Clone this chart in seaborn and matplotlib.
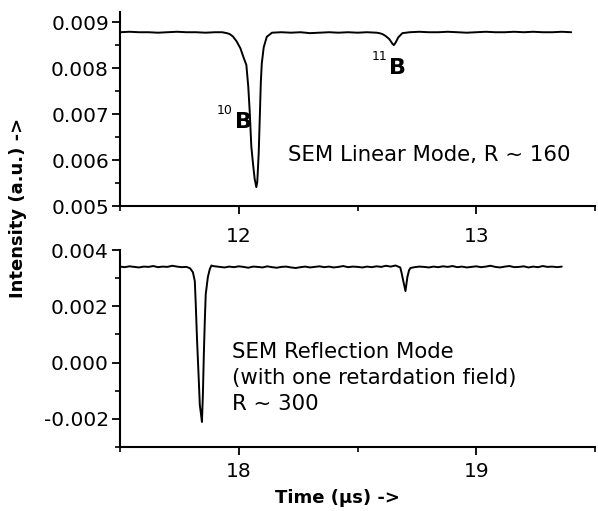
import numpy as np
import pandas as pd
import seaborn as sns
import matplotlib.pyplot as plt
from matplotlib.ticker import MultipleLocator, FormatStrFormatter

# ---------------- data: SEM linear mode (boron isotopes) ----------------
lin_base1_t = np.linspace(11.50, 11.90, 11)
lin_base1_v = [0.00878, 0.00879, 0.00878, 0.00878, 0.00877, 0.00878,
               0.00879, 0.00878, 0.00878, 0.00877, 0.00878]
lin_b10_t = [11.930, 11.950, 11.962, 11.975, 11.990, 12.007, 12.021, 12.032,
             12.040, 12.046, 12.053, 12.060, 12.067, 12.074, 12.078, 12.084,
             12.089, 12.093, 12.097, 12.105, 12.118, 12.140]
lin_b10_v = [0.00878, 0.00876, 0.00874, 0.00869, 0.00859, 0.00843, 0.00822, 0.00807,
             0.00760, 0.00707, 0.00629, 0.00592, 0.00559, 0.00541, 0.00552, 0.00615,
             0.00700, 0.00770, 0.00810, 0.00845, 0.00868, 0.00877]
lin_base2_t = np.linspace(12.18, 12.58, 11)
lin_base2_v = [0.00878, 0.00877, 0.00878, 0.00876, 0.00877, 0.00878,
               0.00877, 0.00878, 0.00877, 0.00878, 0.00877]
lin_b11_t = [12.592, 12.605, 12.618, 12.634, 12.647, 12.653, 12.660, 12.672, 12.689]
lin_b11_v = [0.00876, 0.00874, 0.00870, 0.00863, 0.00853, 0.00850, 0.00855, 0.00867, 0.00876]
lin_base3_t = np.linspace(12.72, 13.40, 18)
lin_base3_v = [0.00878, 0.00879, 0.00878, 0.00878, 0.00879, 0.00878, 0.00877, 0.00878,
               0.00879, 0.00878, 0.00878, 0.00879, 0.00878, 0.00879, 0.00878, 0.00878,
               0.00879, 0.00878]

# ---------------- data: SEM reflection mode ----------------
ref_base1_t = np.linspace(17.50, 17.78, 15)
ref_base1_v = [0.00341, 0.00339, 0.00342, 0.00340, 0.00338, 0.00341, 0.00340, 0.00343,
               0.00339, 0.00341, 0.00340, 0.00344, 0.00341, 0.00339, 0.00340]
ref_b10_t = [17.795, 17.807, 17.815, 17.819, 17.824, 17.832, 17.836, 17.842, 17.845,
             17.849, 17.853, 17.857, 17.861, 17.870, 17.878, 17.885, 17.892]
ref_b10_v = [0.00335, 0.00321, 0.00289, 0.00207, 0.00089, -0.00068, -0.00150, -0.00190,
             -0.00211, -0.00114, 0.00029, 0.00146, 0.00243, 0.00304, 0.00332, 0.00345, 0.00343]
ref_base2_t = np.linspace(17.90, 18.68, 40)
ref_base2_v = [0.00342, 0.00340, 0.00338, 0.00341, 0.00339, 0.00342, 0.00340, 0.00337,
               0.00341, 0.00340, 0.00338, 0.00342, 0.00339, 0.00337, 0.00340, 0.00341,
               0.00338, 0.00336, 0.00339, 0.00341, 0.00338, 0.00340, 0.00342, 0.00339,
               0.00341, 0.00338, 0.00340, 0.00343, 0.00339, 0.00341, 0.00340, 0.00338,
               0.00341, 0.00339, 0.00342, 0.00340, 0.00344, 0.00341, 0.00345, 0.00338]
ref_b11_t = [18.685, 18.693, 18.702, 18.710, 18.717, 18.723]
ref_b11_v = [0.00321, 0.00289, 0.00254, 0.00304, 0.00328, 0.00336]
ref_base3_t = np.linspace(18.74, 19.36, 32)
ref_base3_v = [0.00339, 0.00341, 0.00340, 0.00338, 0.00341, 0.00339, 0.00342, 0.00340,
               0.00343, 0.00339, 0.00341, 0.00338, 0.00340, 0.00342, 0.00339, 0.00341,
               0.00344, 0.00340, 0.00338, 0.00341, 0.00343, 0.00339, 0.00340, 0.00342,
               0.00338, 0.00341, 0.00339, 0.00343, 0.00340, 0.00341, 0.00339, 0.00341]

linear = pd.DataFrame({
    "time": np.concatenate([lin_base1_t, lin_b10_t, lin_base2_t, lin_b11_t, lin_base3_t]),
    "intensity": np.concatenate([lin_base1_v, lin_b10_v, lin_base2_v, lin_b11_v, lin_base3_v]),
})
reflect = pd.DataFrame({
    "time": np.concatenate([ref_base1_t, ref_b10_t, ref_base2_t, ref_b11_t, ref_base3_t]),
    "intensity": np.concatenate([ref_base1_v, ref_b10_v, ref_base2_v, ref_b11_v, ref_base3_v]),
})

# ---------------- figure ----------------
sns.set_style("ticks")
plt.rcParams["font.family"] = ["DejaVu Sans"]
plt.rcParams["axes.unicode_minus"] = False
plt.rcParams["text.color"] = "black"

W, H = 598, 511
fig = plt.figure(figsize=(W / 100, H / 100), dpi=100)
ax1 = fig.add_axes([120 / W, 1 - 206 / H, 475 / W, 194 / H])
ax2 = fig.add_axes([120 / W, 1 - 447 / H, 475 / W, 197 / H])

sns.lineplot(data=linear, x="time", y="intensity", ax=ax1, color="black", lw=1.4)
sns.lineplot(data=reflect, x="time", y="intensity", ax=ax2, color="black", lw=1.4)

ax1.set_xlim(11.5, 13.5)
ax1.set_ylim(0.005, 0.00922)
ax1.set_xticks([12, 13])
ax1.set_yticks([0.005, 0.006, 0.007, 0.008, 0.009])

ax2.set_xlim(17.5, 19.5)
ax2.set_ylim(-0.003, 0.004)
ax2.set_xticks([18, 19])
ax2.set_yticks([-0.002, 0.000, 0.002, 0.004])

for ax in (ax1, ax2):
    sns.despine(ax=ax)
    ax.set_xlabel("")
    ax.set_ylabel("")
    ax.xaxis.set_minor_locator(MultipleLocator(0.5))
    ax.yaxis.set_minor_locator(MultipleLocator(0.0005 if ax is ax1 else 0.001))
    ax.yaxis.set_major_formatter(FormatStrFormatter("%.3f"))
    ax.xaxis.set_major_formatter(FormatStrFormatter("%d"))
    for s in ("left", "bottom"):
        ax.spines[s].set_linewidth(1.5)
        ax.spines[s].set_color("black")
    ax.tick_params(which="major", direction="out", length=6, width=1.3,
                   color="black", labelsize=14.5, labelcolor="black")
    ax.tick_params(which="minor", direction="out", length=3.5, width=1.2, color="black")
    ax.tick_params(axis="y", which="major", pad=2)
ax1.tick_params(axis="x", which="major", pad=9)
ax2.tick_params(axis="x", which="major", pad=5)

# annotations
ax1.text(12.206, 0.00611, "SEM Linear Mode, R ~ 160", fontsize=15.3,
         ha="left", va="center")
ax1.text(12.019, 0.00683, "B", fontsize=16, fontweight="bold", ha="center", va="center")
ax1.text(11.941, 0.00707, "10", fontsize=9, ha="center", va="center")
ax1.text(12.668, 0.00800, "B", fontsize=16, fontweight="bold", ha="center", va="center")
ax1.text(12.592, 0.00826, "11", fontsize=9, ha="center", va="center")

ax2.text(17.971, -0.00054,
         "SEM Reflection Mode\n(with one retardation field)\nR ~ 300",
         fontsize=15.3, ha="left", va="center", linespacing=1.38)

fig.text(18 / W, 1 - 208 / H, "Intensity (a.u.) ->", rotation=90,
         fontsize=13, fontweight="bold", ha="center", va="center")
fig.text(337 / W, 1 - 498 / H, "Time (µs) ->",
         fontsize=13, fontweight="bold", ha="center", va="center")

fig.savefig("out.png", dpi=100, facecolor="white")
